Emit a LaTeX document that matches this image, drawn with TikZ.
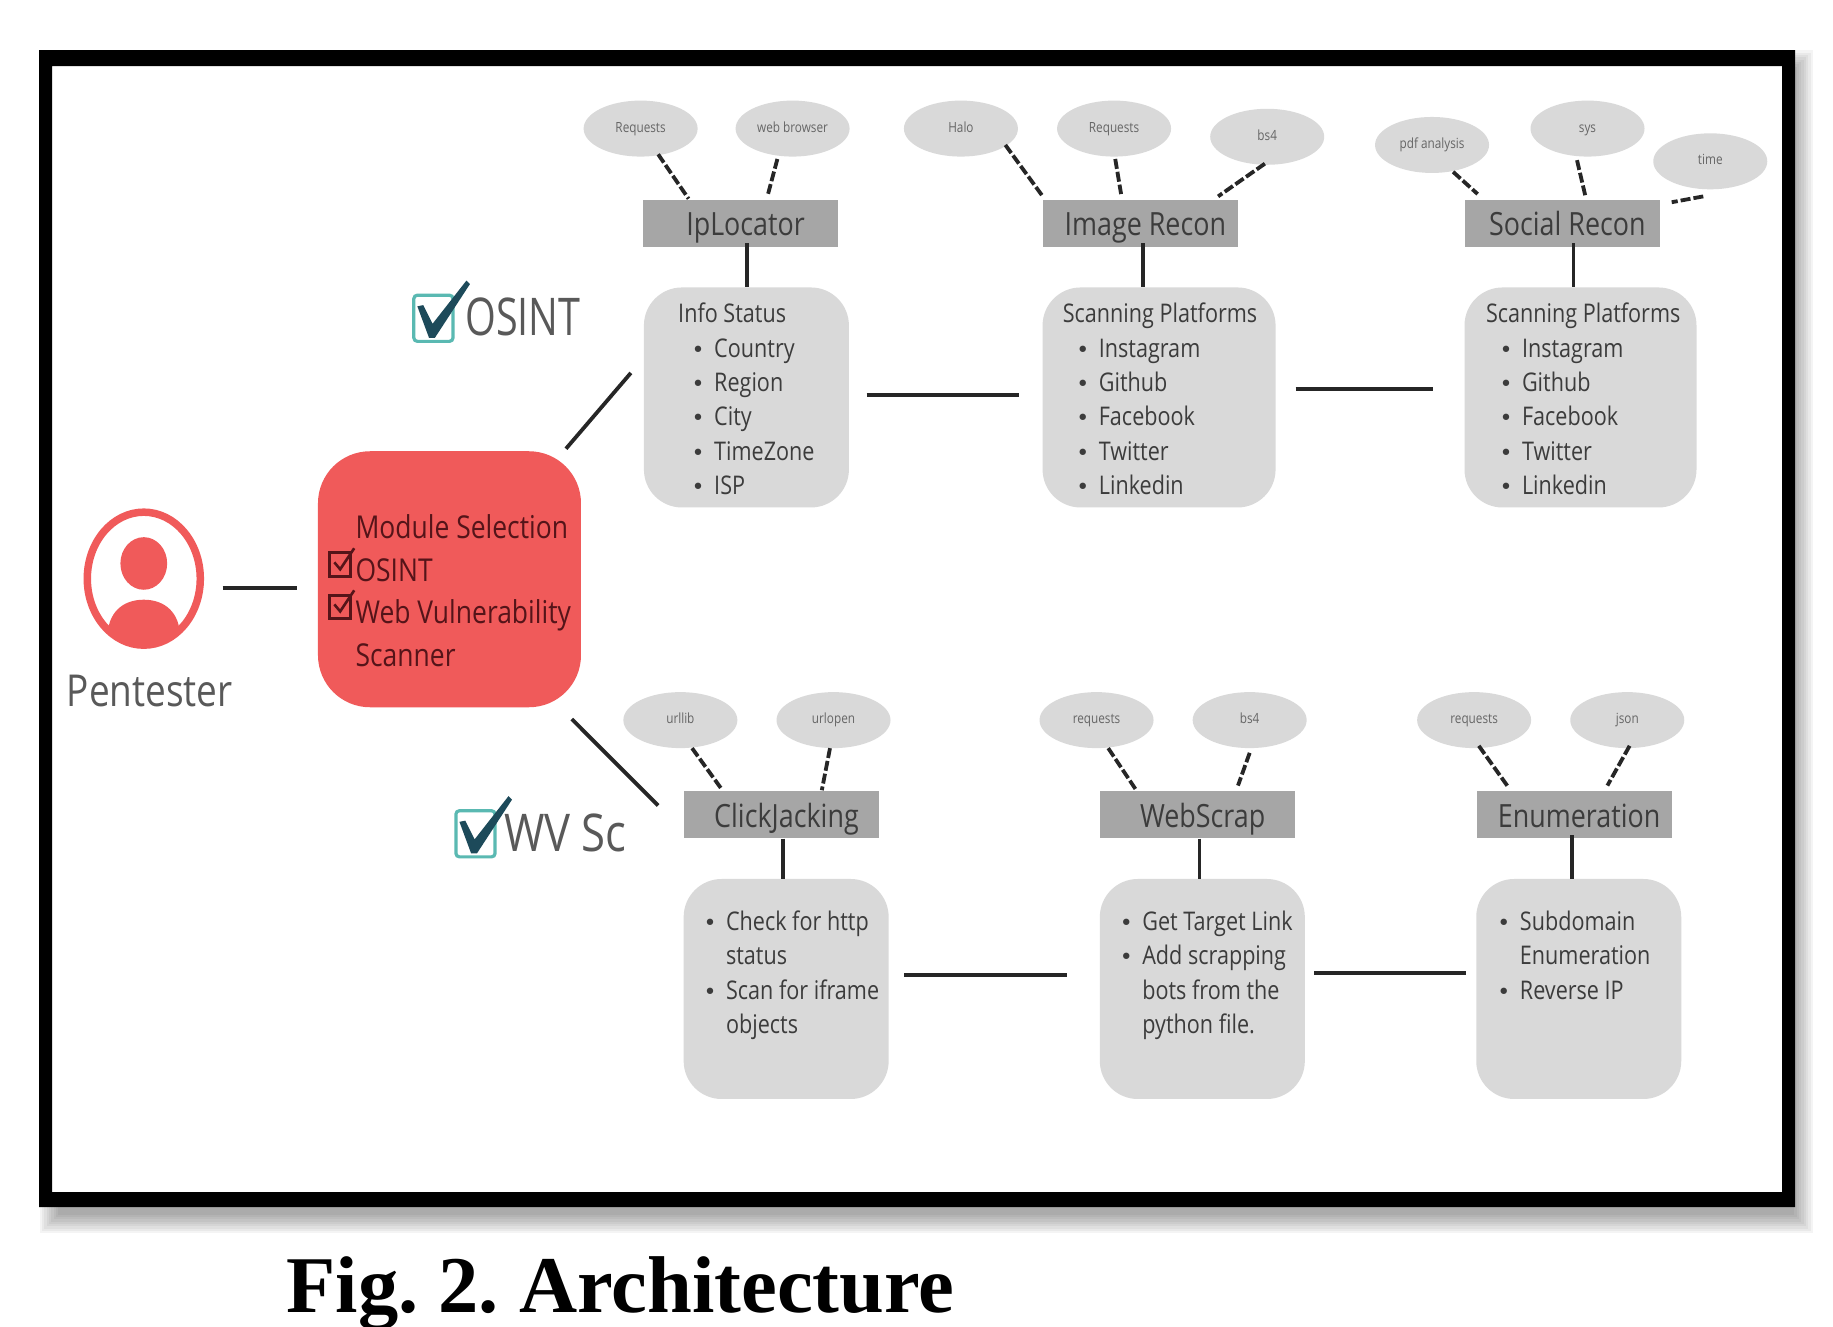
\documentclass[tikz,border=0pt]{standalone}
\usepackage{fontspec}
\setmainfont[FakeStretch=0.84]{Open Sans}
\newfontfamily\capfont{Liberation Serif}
\newfontfamily\bigfont[FakeStretch=0.76]{Open Sans}
\newfontfamily\dotfont{DejaVu Sans}
\usetikzlibrary{shapes.geometric}
\definecolor{redbox}{RGB}{240,90,90}
\definecolor{cardgray}{RGB}{217,217,217}
\definecolor{headgray}{RGB}{166,166,166}
\definecolor{inkgray}{RGB}{60,60,60}
\definecolor{tealbox}{RGB}{90,185,178}
\definecolor{checkink}{RGB}{29,74,90}
\definecolor{darkred}{RGB}{85,20,25}
\newcommand{\itm}[1]{\makebox[18pt][l]{\hspace*{-4.5pt}{\dotfont\fontsize{22}{22}\selectfont •}}#1}
\newcommand{\cnt}[1]{\hspace*{18pt}#1}
\tikzset{
  x=1.169pt,y=-1.169pt,
  tool/.style={ellipse,fill=cardgray,minimum width=114pt,minimum height=56pt,inner sep=0pt,text height=10pt,text depth=3pt,text=black!60,font=\fontsize{14}{16}\selectfont},
  head/.style={fill=headgray,minimum width=195pt,minimum height=47pt,inner sep=0pt,text height=33pt,text depth=8.4pt,text=inkgray,font=\fontsize{32}{36}\selectfont,execute at begin node=\hspace*{10pt}},
  card/.style={fill=cardgray,rounded corners=38pt,inner sep=0pt,minimum height=220pt},
  listtext/.style={anchor=north west,align=left,inner sep=0pt,text=inkgray,font=\fontsize{25.7}{34.4}\selectfont},
  dashline/.style={line width=3.8pt,dash pattern=on 10pt off 3pt,black!85},
  solidline/.style={line width=3.8pt,black!85},
  redtext/.style={anchor=base west,inner sep=0pt,text=darkred,font=\fontsize{31.5}{36}\selectfont},
  bigtext/.style={anchor=base west,inner sep=0pt,text=black!65,font=\fontsize{52}{56}\selectfont},
  tick/.style={fill=checkink},
  tickbox/.style={tealbox,line width=3.2pt,rounded corners=3.5pt},
}
\begin{document}
\begin{tikzpicture}
\useasboundingbox (0,0) rectangle (1568,1134.3);
% frame and its shadow
\foreach \k in {0,2,...,16}{\fill[black,opacity=.045] (34+\k,43+\k) rectangle (1551-\k,1055-\k);}
\fill[white] (44.5,56.5) rectangle (1524.4,1019.7);
\fill[black,even odd rule] (33.4,42.8) rectangle (1535.5,1032.5) (44.5,56.5) rectangle (1524.4,1019.7);
% person
\node[ellipse,draw=redbox,line width=7.5pt,fill=white,minimum width=113pt,minimum height=133pt,inner sep=0pt] (person) at (123,495) {};
\begin{scope}
\clip (123,495) ellipse [x radius=50,y radius=59];
\fill[redbox] (92,545) .. controls (92,524) and (105,513) .. (123,513) .. controls (141,513) and (154,524) .. (154,545) -- cycle;
\fill[redbox] (70,600) rectangle (176,538);
\end{scope}
\fill[redbox] (123,482) ellipse [x radius=20,y radius=22.5];
\node[anchor=base west,inner sep=0pt,text=black!65,font=\fontsize{44}{48}\selectfont] (pent) at (57,604.5) {Pentester};
% module box
\node[fill=redbox,rounded corners=52pt,minimum width=263pt,minimum height=256pt,inner sep=0pt] (mod) at (384.5,495.5) {};
\node[redtext] (m1) at (304,461) {Module Selection};
\node[redtext] (m2) at (304,497) {OSINT};
\node[redtext] (m3) at (304,533) {Web Vulnerability};
\node[redtext] (m4) at (304,570) {Scanner};
\foreach \yy in {473,509}{
  \draw[darkred,line width=3pt] (282,\yy) rectangle (300,\yy+20);
  \draw[darkred,line width=2.6pt] (286,\yy+8) -- (291,\yy+14) -- (303,\yy-4);
}
% OSINT / WV Sc tick labels
\draw[tickbox] (354,252.5) rectangle (387.5,292);
\fill[tick] (357,262) -- (362,261) -- (370,277) -- (399,240) -- (402,243) -- (372,289) -- (367,289) -- cycle;
\node[bigtext,font=\bigfont\fontsize{52}{56}\selectfont] (osint) at (398,287) {OSINT};
\draw[tickbox] (390,693.5) rectangle (423.5,733);
\fill[tick] (393,703) -- (398,702) -- (406,718) -- (435,681) -- (438,684) -- (408,730) -- (403,730) -- cycle;
\node[bigtext] (wvsc) at (431,728) {WV Sc};
% tool ellipses
\node[tool] (ea) at (548,110) {Requests};
\node[tool] (eb) at (678,110) {web browser};
\node[tool] (ec) at (822,110) {Halo};
\node[tool] (ed) at (953,110) {Requests};
\node[tool] (ee) at (1084,117) {bs4};
\node[tool] (ef) at (1225,124) {pdf analysis};
\node[tool] (eg) at (1358,110) {sys};
\node[tool] (eh) at (1463,138) {time};
\node[tool] (ei) at (582,616) {urllib};
\node[tool] (ej) at (713,616) {urlopen};
\node[tool] (ek) at (938,616) {requests};
\node[tool] (el) at (1069,616) {bs4};
\node[tool] (em) at (1261,616) {requests};
\node[tool] (en) at (1392,616) {json};
% headers
\node[head] (b1) at (633.5,191) {IpLocator};
\node[head] (b2) at (975.5,191) {Image Recon};
\node[head] (b3) at (1336.5,191) {Social Recon};
\node[head] (b4) at (668.5,697) {ClickJacking};
\node[head] (b5) at (1024.5,697) {WebScrap};
\node[head] (b6) at (1346.5,697) {Enumeration};
% cards
\node[card,minimum width=205pt] (c1) at (638.5,340) {};
\node[card,minimum width=233pt] (c2) at (991.5,340) {};
\node[card,minimum width=232pt] (c3) at (1352,340) {};
\node[card,minimum width=205pt] (c4) at (672.5,846) {};
\node[card,minimum width=205pt] (c5) at (1028.5,846) {};
\node[card,minimum width=205pt] (c6) at (1350.5,846) {};
% card texts
\node[listtext] (t1) at (580,259) {Info Status\\\cnt{\itm{Country}}\\\cnt{\itm{Region}}\\\cnt{\itm{City}}\\\cnt{\itm{TimeZone}}\\\cnt{\itm{ISP}}};
\node[listtext] (t2) at (909,259) {Scanning Platforms\\\cnt{\itm{Instagram}}\\\cnt{\itm{Github}}\\\cnt{\itm{Facebook}}\\\cnt{\itm{Twitter}}\\\cnt{\itm{Linkedin}}};
\node[listtext] (t3) at (1271,259) {Scanning Platforms\\\cnt{\itm{Instagram}}\\\cnt{\itm{Github}}\\\cnt{\itm{Facebook}}\\\cnt{\itm{Twitter}}\\\cnt{\itm{Linkedin}}};
\node[listtext] (t4) at (605.5,779) {\itm{Check for http}\\\cnt{status}\\\itm{Scan for iframe}\\\cnt{objects}};
\node[listtext] (t5) at (961.6,779) {\itm{Get Target Link}\\\itm{Add scrapping}\\\cnt{bots from the}\\\cnt{python file.}};
\node[listtext] (t6) at (1284.6,779) {\itm{Subdomain}\\\cnt{Enumeration}\\\itm{Reverse IP}};
% dashed connectors
\draw[dashline] ([shift={(15,22)}]ea.center) -- ([shift={(-44.5,-21)}]b1.center);
\draw[dashline] ([shift={(-13,26)}]eb.center) -- ([shift={(23.5,-25)}]b1.center);
\draw[dashline] ([shift={(38,14)}]ec.center) -- ([shift={(-83.5,-23)}]b2.center);
\draw[dashline] ([shift={(1,26)}]ed.center) -- ([shift={(-16.5,-25)}]b2.center);
\draw[dashline] ([shift={(-2,23)}]ee.center) -- ([shift={(66.5,-23)}]b2.center);
\draw[dashline] ([shift={(18,23)}]ef.center) -- ([shift={(-72.5,-25)}]b3.center);
\draw[dashline] ([shift={(-9,27)}]eg.center) -- ([shift={(19.5,-24)}]b3.center);
\draw[dashline] ([shift={(-6,30)}]eh.center) -- ([shift={(93.5,-18)}]b3.center);
\draw[dashline] ([shift={(10,24)}]ei.center) -- ([shift={(-50.5,-21)}]b4.center);
\draw[dashline] ([shift={(-3,24)}]ej.center) -- ([shift={(34.5,-21)}]b4.center);
\draw[dashline] ([shift={(10,24)}]ek.center) -- ([shift={(-52.5,-21)}]b5.center);
\draw[dashline] ([shift={(0,28)}]el.center) -- ([shift={(34.5,-25)}]b5.center);
\draw[dashline] ([shift={(4,22)}]em.center) -- ([shift={(-56.5,-24)}]b6.center);
\draw[dashline] ([shift={(2,22)}]en.center) -- ([shift={(28.5,-25)}]b6.center);
% header to card
\draw[solidline] ([shift={(5.5,-3)}]b1.south) -- ([shift={(0.5,0)}]c1.north);
\draw[solidline] ([shift={(2.5,-3)}]b2.south) -- ([shift={(-13.5,0)}]c2.north);
\draw[solidline] ([shift={(9.5,-3)}]b3.south) -- ([shift={(-6,0)}]c3.north);
\draw[solidline] ([shift={(1.5,0)}]b4.south) -- ([shift={(-2.5,0)}]c4.north);
\draw[solidline] ([shift={(1.5,0)}]b5.south) -- ([shift={(-2.5,0)}]c5.north);
\draw[solidline] ([shift={(-1.5,-3)}]b6.south) -- ([shift={(-5.5,0)}]c6.north);
% card to card
\draw[solidline] ([shift={(15,-2)}]c1.east) -- ([shift={(-20,-2)}]c2.west);
\draw[solidline] ([shift={(17,-7)}]c2.east) -- ([shift={(-27,-7)}]c3.west);
\draw[solidline] ([shift={(13,-12)}]c4.east) -- ([shift={(-28,-12)}]c5.west);
\draw[solidline] ([shift={(8,-14)}]c5.east) -- ([shift={(-9,-14)}]c6.west);
% main connectors
\draw[solidline] ([shift={(16,8)}]person.east) -- ([shift={(-18,7.5)}]mod.west);
\draw[solidline] ([shift={(-13,-2)}]mod.north east) -- ([shift={(-11,-21)}]c1.west);
\draw[solidline] ([shift={(-8,10)}]mod.south east) -- ([shift={(-22,-8)}]b4.west);
% caption
\node[anchor=base west,inner sep=0pt,text=black,font=\capfont\bfseries\fontsize{80.5}{84}\selectfont] (cap) at (245,1123) {\frenchspacing\xspaceskip=13.5pt Fig. 2. Architecture};
\end{tikzpicture}
\end{document}
